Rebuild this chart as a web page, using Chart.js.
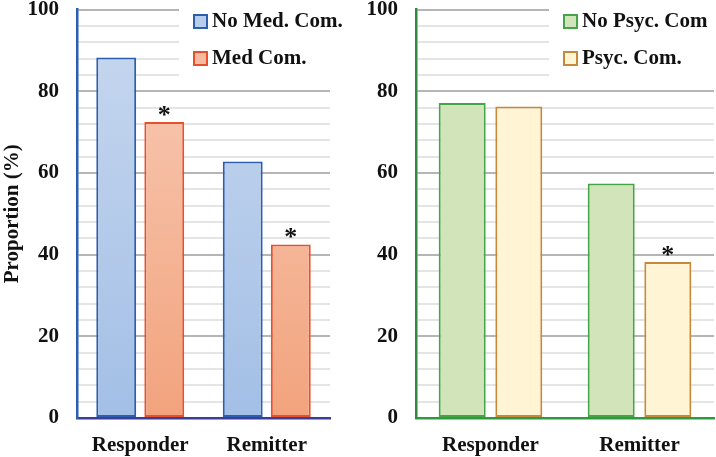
<!DOCTYPE html>
<html>
<head>
<meta charset="utf-8">
<script src="https://cdn.jsdelivr.net/npm/chart.js@4.4.0/dist/chart.umd.min.js"></script>
<style>
  body { margin: 0; background: #fff; }
  .box { position: absolute; top: 0; height: 457px; }
  #left { left: 0; width: 356px; }
  #right { left: 356px; width: 360px; }
</style>
</head>
<body>
<div class="box" id="left"><canvas id="c1"></canvas></div>
<div class="box" id="right"><canvas id="c2"></canvas></div>
<script>
const categories = ['Responder', 'Remitter'];
const yTicks = [0, 20, 40, 60, 80, 100];

const noMedCom = [88.3, 62.8];
const medCom = [72.5, 42.5];
const medStars = [true, true];

const noPsycCom = [77.1, 57.4];
const psycCom = [76.3, 38.2];
const psycStars = [false, true];

const serif = '"Liberation Serif", "Times New Roman", serif';
const FS = 21;

function grad(top, bottom) {
  return (ctx) => {
    const area = ctx.chart.chartArea;
    if (!area) return bottom;
    const g = ctx.chart.ctx.createLinearGradient(0, area.top, 0, area.bottom);
    g.addColorStop(0, top);
    g.addColorStop(1, bottom);
    return g;
  };
}

// white box behind the legend (after the grid), then the legend itself
const legendBox = {
  id: 'legendBox',
  beforeDatasetsDraw(chart, args, opts) {
    const c = chart.ctx;
    c.save();
    c.fillStyle = '#fff';
    c.fillRect(opts.x - 15, 0, chart.width, 84);
    c.restore();
  },
  afterDraw(chart, args, opts) {
    const c = chart.ctx;
    c.save();
    chart.data.datasets.forEach((ds, i) => {
      const y = 21 + i * 37;
      c.fillStyle = ds.legendFill;
      c.fillRect(opts.x, y - 6, 13, 13);
      c.strokeStyle = ds.borderColor;
      c.lineWidth = 2;
      c.strokeRect(opts.x, y - 6, 13, 13);
      c.fillStyle = '#111';
      c.font = 'bold ' + FS + 'px ' + serif;
      c.textBaseline = 'middle';
      c.fillText(ds.label, opts.x + 18, y + 1);
    });
    c.restore();
  }
};

const stars = {
  id: 'stars',
  afterDatasetsDraw(chart, args, opts) {
    const c = chart.ctx;
    const meta = chart.getDatasetMeta(1);
    c.save();
    c.fillStyle = '#111';
    c.font = 'bold 26px ' + serif;
    c.textAlign = 'center';
    c.textBaseline = 'middle';
    opts.flags.forEach((on, j) => {
      if (!on) return;
      const bar = meta.data[j];
      c.fillText('*', bar.x, bar.y - 6);
    });
    c.restore();
  }
};

function makeChart(id, sets, cfg) {
  return new Chart(document.getElementById(id), {
    type: 'bar',
    data: { labels: categories, datasets: sets },
    plugins: [legendBox, stars],
    options: {
      responsive: true,
      maintainAspectRatio: false,
      animation: false,
      layout: { padding: { left: 0, right: cfg.padRight, top: 9, bottom: 0 } },
      datasets: { bar: { categoryPercentage: 0.76, barPercentage: 0.83, borderSkipped: false } },
      plugins: {
        legend: { display: false },
        tooltip: { enabled: false },
        legendBox: { x: cfg.legendX },
        stars: { flags: cfg.stars }
      },
      scales: {
        x: {
          grid: { display: false, drawTicks: false },
          border: { color: cfg.xAxisColor, width: 2.5 },
          ticks: { color: '#111', font: { family: serif, size: FS, weight: 'bold' }, padding: 15 },
          afterFit: (s) => { s.height = 39; }
        },
        y: {
          min: 0,
          max: 100,
          ticks: {
            stepSize: 4,
            autoSkip: false,
            color: '#111',
            padding: -3,
            font: { family: serif, size: FS, weight: 'bold' },
            callback: (v) => (yTicks.includes(v) ? v : '')
          },
          grid: {
            drawTicks: true,
            tickLength: 21,
            tickColor: 'rgba(0,0,0,0)',
            color: (ctx) => (yTicks.includes(ctx.tick.value) ? '#b5b5b5' : '#e4e4e4'),
            lineWidth: 2
          },
          border: { color: cfg.yAxisColor, width: 2.5 },
          title: {
            display: cfg.title !== '',
            text: cfg.title,
            color: '#111',
            font: { family: serif, size: FS, weight: 'bold' },
            padding: { top: 0, bottom: 0 }
          },
          afterFit: (s) => { s.width = cfg.yWidth; }
        }
      }
    }
  });
}

makeChart('c1', [
  {
    label: 'No Med. Com.',
    data: noMedCom,
    backgroundColor: grad('#c8d8ef', '#a3bfe6'),
    legendFill: '#b8cdeb',
    borderColor: '#2b5fad',
    borderWidth: 2
  },
  {
    label: 'Med Com.',
    data: medCom,
    backgroundColor: grad('#f8cdb9', '#f2a37d'),
    legendFill: '#f5baa0',
    borderColor: '#e8502a',
    borderWidth: 2
  }
], { padRight: 26, yWidth: 77, legendX: 194, title: 'Proportion (%)', stars: medStars,
     xAxisColor: '#3a3d9c', yAxisColor: '#2b5fad' });

makeChart('c2', [
  {
    label: 'No Psyc. Com',
    data: noPsycCom,
    backgroundColor: '#d2e5ba',
    legendFill: '#d2e5ba',
    borderColor: '#45a445',
    borderWidth: 2
  },
  {
    label: 'Psyc. Com.',
    data: psycCom,
    backgroundColor: '#fff4d3',
    legendFill: '#fff4d3',
    borderColor: '#c8883a',
    borderWidth: 2
  }
], { padRight: 2, yWidth: 60, legendX: 208, title: '', stars: psycStars,
     xAxisColor: '#2e9a40', yAxisColor: '#2e8b3e' });
</script>
</body>
</html>
